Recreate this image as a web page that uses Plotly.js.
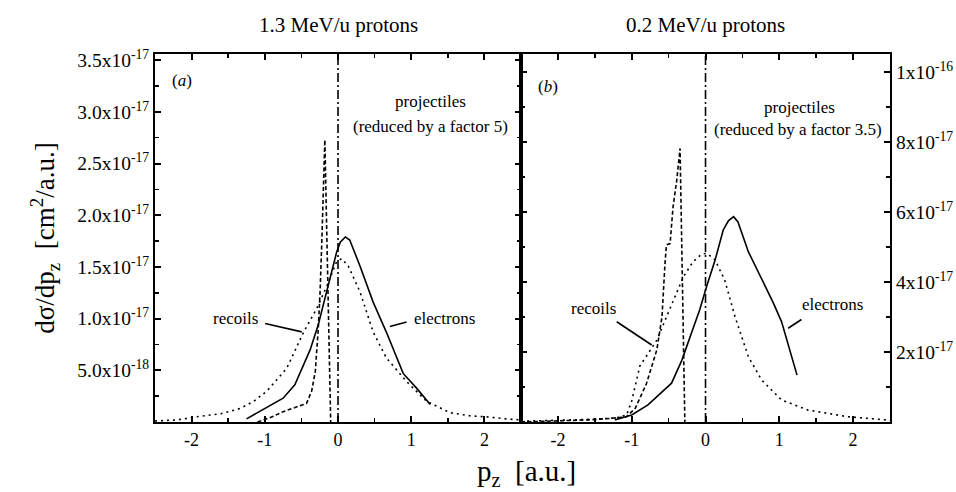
<!DOCTYPE html>
<html>
<head>
<meta charset="utf-8">
<script src="https://cdn.plot.ly/plotly-3.0.1.min.js"></script>
<style>html,body{margin:0;padding:0;background:#fff;}#chart{width:956px;height:492px;}</style>
</head>
<body>
<div id="chart"></div>
<script>
// ---------- data (y values in units of 1e-17 cm^2/a.u.) ----------
const UNIT = 1e-17;

// Panel (a): 1.3 MeV/u protons
const elecA_x = [-1.25,-1.0,-0.75,-0.59,-0.38,-0.27,-0.15,-0.02,0.03,0.10,0.16,0.30,0.48,0.66,0.89,1.07,1.26];
const elecA_y = [0.03,0.13,0.23,0.36,0.70,0.94,1.29,1.64,1.74,1.79,1.76,1.51,1.16,0.87,0.47,0.33,0.17];

const projA_x = [-2.5,-2.2,-1.93,-1.6,-1.34,-1.15,-0.97,-0.70,-0.47,-0.29,-0.15,-0.02,0.05,0.14,0.30,0.48,0.66,0.94,1.21,1.53,1.8,2.03,2.3,2.5];
const projA_y = [0.01,0.02,0.05,0.08,0.13,0.20,0.30,0.52,0.87,1.10,1.32,1.55,1.58,1.51,1.26,0.87,0.62,0.39,0.20,0.09,0.06,0.05,0.03,0.02];

const recA_x = [-1.1,-0.9,-0.75,-0.6,-0.47,-0.43,-0.36,-0.31,-0.27,-0.245,-0.22,-0.20,-0.18,-0.10];
const recA_y = [0.0,0.05,0.10,0.14,0.17,0.18,0.30,0.49,0.90,1.26,1.77,2.25,2.73,0.0];

// Panel (b): 0.2 MeV/u protons
const elecB_x = [-1.23,-1.0,-0.78,-0.62,-0.46,-0.32,-0.19,-0.08,0.02,0.13,0.24,0.31,0.38,0.44,0.58,0.70,0.81,0.92,1.03,1.24];
const elecB_y = [0.06,0.20,0.49,0.80,1.11,1.77,2.53,3.20,3.91,4.63,5.49,5.75,5.87,5.72,4.87,4.35,3.91,3.40,2.87,1.34];

const projB_x = [-2.5,-2.0,-1.5,-1.2,-1.07,-1.0,-0.89,-0.78,-0.66,-0.53,-0.41,-0.30,-0.17,-0.05,0.02,0.13,0.26,0.40,0.58,0.76,1.03,1.39,1.93,2.5];
const projB_y = [0.02,0.05,0.08,0.12,0.20,0.60,1.60,1.95,2.34,3.00,3.58,4.15,4.58,4.80,4.82,4.63,4.06,3.01,1.87,1.20,0.63,0.34,0.15,0.05];

const recB_x = [-2.5,-2.0,-1.6,-1.3,-1.07,-0.95,-0.80,-0.66,-0.59,-0.55,-0.53,-0.48,-0.44,-0.39,-0.345,-0.28];
const recB_y = [0.0,0.03,0.06,0.10,0.15,0.40,1.10,2.06,3.00,4.50,5.06,5.10,6.15,6.91,7.82,0.0];

// projectile (beam) position, drawn as dash-dot vertical line
const projCenterA = 0;
const projCenterB = 0;

// tick labels
const xTickVals = [-2,-1,0,1,2];
const xTickText = ['-2','-1','0','1','2'];
const yTickValsA = [0.5,1.0,1.5,2.0,2.5,3.0,3.5];
const yTickTextA = ['5.0x10<sup>-18</sup>','1.0x10<sup>-17</sup>','1.5x10<sup>-17</sup>','2.0x10<sup>-17</sup>','2.5x10<sup>-17</sup>','3.0x10<sup>-17</sup>','3.5x10<sup>-17</sup>'];
const yTickValsB = [2,4,6,8,10];
const yTickTextB = ['2x10<sup>-17</sup>','4x10<sup>-17</sup>','6x10<sup>-17</sup>','8x10<sup>-17</sup>','1x10<sup>-16</sup>'];

// ---------- drawing ----------
const sc = a => a.map(v => v * UNIT);
const FONT = '"Liberation Serif", "DejaVu Serif", serif';
const lw = 1.6;

function tr(x, y, dash, xa, ya) {
  return {x: x, y: sc(y), mode: 'lines', xaxis: xa, yaxis: ya,
    line: {color: '#000', width: lw, dash: dash}, hoverinfo: 'skip', showlegend: false};
}
const DOT = '2px,4px';
const DASH = '4px,2.5px';

const traces = [
  tr(projA_x, projA_y, DOT, 'x', 'y'),
  tr(recA_x, recA_y, DASH, 'x', 'y'),
  tr(elecA_x, elecA_y, 'solid', 'x', 'y'),
  tr(projB_x, projB_y, DOT, 'x2', 'y2'),
  tr(recB_x, recB_y, DASH, 'x2', 'y2'),
  tr(elecB_x, elecB_y, 'solid', 'x2', 'y2')
];

const axBase = {
  showline: true, linecolor: '#000', linewidth: 2, mirror: 'ticks',
  ticks: 'inside', ticklen: 6, tickwidth: 2, tickcolor: '#000',
  showgrid: false, zeroline: false, fixedrange: true,
  tickfont: {family: FONT, size: 18, color: '#000'}
};
const yFont = {family: FONT, size: 19.5, color: '#000'};
const minorX = {tickmode: 'linear', tick0: 0.5, dtick: 1, ticklen: 4, tickwidth: 1.5, tickcolor: '#000', ticks: 'inside'};

const xA = Object.assign({}, axBase, {domain: [0, 0.498], range: [-2.5, 2.5], anchor: 'y',
  tickmode: 'array', tickvals: xTickVals, ticktext: xTickText, minor: minorX});
const xB = Object.assign({}, axBase, {domain: [0.498, 1], range: [-2.5, 2.5], anchor: 'y2',
  tickmode: 'array', tickvals: xTickVals, ticktext: xTickText, minor: minorX});
const yA = Object.assign({}, axBase, {domain: [0, 1], range: [0, 3.56e-17], anchor: 'x',
  tickmode: 'array', tickvals: sc(yTickValsA), ticktext: yTickTextA, tickfont: yFont,
  minor: {tickmode: 'linear', tick0: 0.25e-17, dtick: 0.5e-17, ticklen: 4, tickwidth: 1.5, tickcolor: '#000', ticks: 'inside'}});
const yB = Object.assign({}, axBase, {domain: [0, 1], range: [0, 1.052e-16], anchor: 'x2', side: 'right',
  tickmode: 'array', tickvals: sc(yTickValsB), ticktext: yTickTextB, tickfont: yFont,
  minor: {tickmode: 'linear', tick0: 1e-17, dtick: 2e-17, ticklen: 4, tickwidth: 1.5, tickcolor: '#000', ticks: 'inside'}});

const txt = (x, y, xref, yref, text, opts) => Object.assign({
  x: x, y: y, xref: xref, yref: yref, text: text, showarrow: false,
  xanchor: 'center', yanchor: 'middle',
  font: {family: FONT, size: 17, color: '#000'}}, opts || {});

const annotations = [
  txt(0.249, 1.08, 'paper', 'paper', '1.3 MeV/u protons', {font: {family: FONT, size: 21, color: '#000'}}),
  txt(0.749, 1.08, 'paper', 'paper', '0.2 MeV/u protons', {font: {family: FONT, size: 21, color: '#000'}}),
  txt(-0.15, 0.5, 'paper', 'paper', 'dσ/dp<sub>z</sub>  [cm<sup>2</sup>/a.u.]', {textangle: -90, font: {family: FONT, size: 27, color: '#000'}}),
  txt(0.506, -0.138, 'paper', 'paper', 'p<sub>z</sub>  [a.u.]', {font: {family: FONT, size: 29, color: '#000'}}),
  txt(-2.3, 3.3e-17, 'x', 'y', '(<i>a</i>)', {xanchor: 'left'}),
  txt(1.26, 3.1e-17, 'x', 'y', 'projectiles'),
  txt(1.26, 2.86e-17, 'x', 'y', '(reduced by a factor 5)'),
  txt(-1.40, 1.0e-17, 'x', 'y', 'recoils'),
  txt(1.45, 1.0e-17, 'x', 'y', 'electrons'),
  txt(-2.3, 9.6e-17, 'x2', 'y2', '(<i>b</i>)', {xanchor: 'left'}),
  txt(1.28, 9.0e-17, 'x2', 'y2', 'projectiles'),
  txt(1.25, 8.35e-17, 'x2', 'y2', '(reduced by a factor 3.5)'),
  txt(-1.52, 3.25e-17, 'x2', 'y2', 'recoils'),
  txt(1.72, 3.35e-17, 'x2', 'y2', 'electrons')
];

const ln = (xr, yr, x0, y0, x1, y1, dash) => ({type: 'line', xref: xr, yref: yr,
  x0: x0, y0: y0, x1: x1, y1: y1, line: {color: '#000', width: lw, dash: dash || 'solid'}});

const shapes = [
  {type: 'line', xref: 'x', yref: 'y domain', x0: projCenterA, x1: projCenterA, y0: 0, y1: 1,
    line: {color: '#000', width: lw, dash: '9px,3px,2px,3px'}},
  {type: 'line', xref: 'x2', yref: 'y2 domain', x0: projCenterB, x1: projCenterB, y0: 0, y1: 1,
    line: {color: '#000', width: lw, dash: '9px,3px,2px,3px'}},
  // leader lines for labels
  ln('x', 'y', -0.996, 0.952e-17, -0.495, 0.872e-17),
  ln('x', 'y', 0.709, 0.923e-17, 0.937, 0.968e-17),
  ln('x2', 'y2', -1.203, 2.866e-17, -0.729, 2.2e-17),
  ln('x2', 'y2', 1.30, 2.93e-17, 1.12, 2.68e-17)
];

const layout = {
  width: 956, height: 492,
  margin: {l: 155, r: 66, t: 54, b: 70},
  paper_bgcolor: '#fff', plot_bgcolor: '#fff',
  showlegend: false,
  font: {family: FONT, color: '#000'},
  xaxis: xA, xaxis2: xB, yaxis: yA, yaxis2: yB,
  annotations: annotations, shapes: shapes
};

Plotly.newPlot('chart', traces, layout, {staticPlot: true, displayModeBar: false});
</script>
</body>
</html>
